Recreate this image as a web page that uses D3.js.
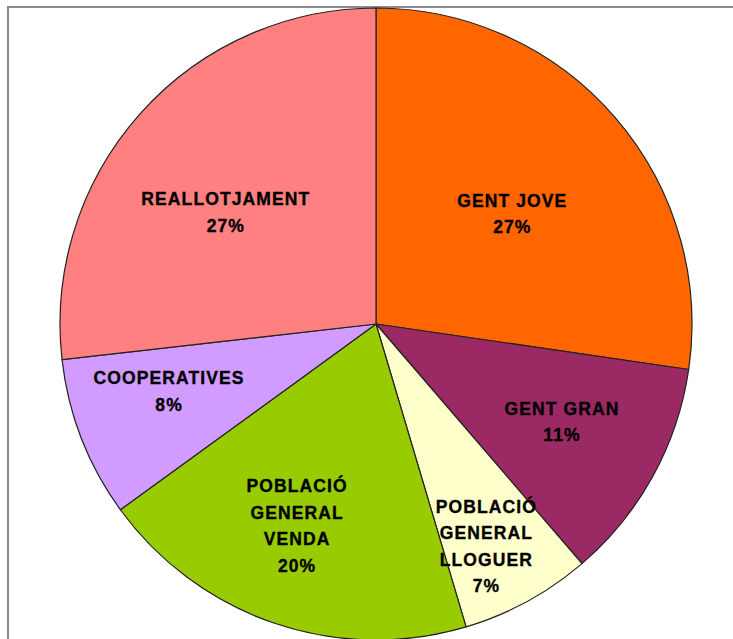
<!DOCTYPE html>
<html>
<head>
<meta charset="utf-8">
<style>
  body { margin: 0; background: #fff; }
  svg { display: block; }
</style>
</head>
<body>
<script src="https://cdn.jsdelivr.net/npm/d3@7"></script>
<div id="chart"></div>
<script>
  // data (shares)
  var labels = [
    ["GENT JOVE"],
    ["GENT GRAN"],
    ["POBLACIÓ", "GENERAL", "LLOGUER"],
    ["POBLACIÓ", "GENERAL", "VENDA"],
    ["COOPERATIVES"],
    ["REALLOTJAMENT"]
  ];
  var values = [27.3, 11.4, 6.7, 19.6, 8.2, 26.8];
  var colors = ["#FF6600", "#9B2964", "#FFFFCC", "#99CC00", "#D29BFF", "#FF8080"];

  // layout
  var width = 733, height = 639;
  var cx = 376, cy = 324, radius = 316;
  var lineH = 26.5;
  // nudges for label blocks relative to centroid at 0.65 R (px)
  var nudge = [[-19, 24], [6, -1], [12, 42], [-13, 7], [-15.5, -7], [3, 25]];

  var svg = d3.select("#chart").append("svg")
      .attr("width", width)
      .attr("height", height);

  // chart frame (runs off the right/bottom of the view)
  svg.append("rect")
    .attr("x", 8).attr("y", 7)
    .attr("width", 740).attr("height", 660)
    .attr("fill", "none")
    .attr("stroke", "#8a8a8a")
    .attr("stroke-width", 2);

  var pie = d3.pie().sort(null).value(function(d) { return d; });
  var arcs = pie(values);

  var arc = d3.arc().innerRadius(0).outerRadius(radius);
  var labelArc = d3.arc().innerRadius(radius * 0.65).outerRadius(radius * 0.65);

  var g = svg.append("g").attr("transform", "translate(" + cx + "," + cy + ")");

  g.selectAll("path.slice").data(arcs)
    .enter().append("path")
    .attr("class", "slice")
    .attr("d", arc)
    .attr("fill", function(d, i) { return colors[i]; })
    .attr("stroke", "#222")
    .attr("stroke-width", 1.2)
    .attr("stroke-linejoin", "round");

  var lab = g.selectAll("text.lab").data(arcs)
    .enter().append("text")
    .attr("class", "lab")
    .attr("text-anchor", "middle")
    .style("font-family", "'Liberation Sans', Arial, sans-serif")
    .style("font-weight", "bold")
    .style("font-size", "17.5px")
    .style("letter-spacing", "1.1px")
    .attr("fill", "#000")
    .attr("stroke", "#000")
    .attr("stroke-width", 0.35);

  lab.each(function(d, i) {
    var c = labelArc.centroid(d);
    var lines = labels[i].concat([Math.round(values[i]) + "%"]);
    var x = c[0] + nudge[i][0];
    // block is centered on cap-top..last-baseline
    var capH = 12.5;
    var blockH = capH + (lines.length - 1) * lineH;
    var y0 = c[1] + nudge[i][1] - blockH / 2 + capH;
    var t = d3.select(this);
    lines.forEach(function(s, k) {
      t.append("tspan")
        .attr("x", x)
        .attr("y", y0 + k * lineH)
        .text(s);
    });
  });
</script>
</body>
</html>
